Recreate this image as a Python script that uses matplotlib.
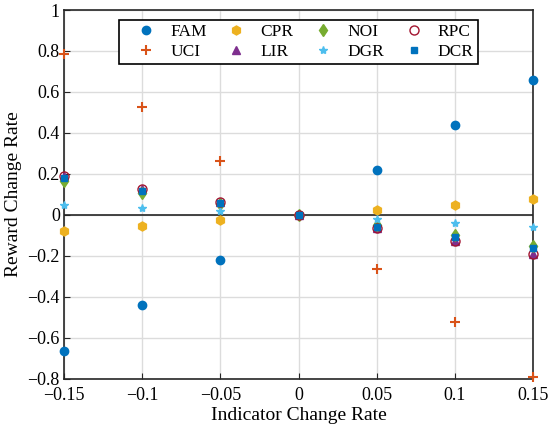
import matplotlib.pyplot as plt
import numpy as np

plt.rcParams['font.family'] = ['Liberation Serif', 'DejaVu Serif']

# indicator change rate
x = [-0.15, -0.1, -0.05, 0, 0.05, 0.1, 0.15]

fam = [-0.665, -0.44, -0.22, 0, 0.22, 0.44, 0.66]
uci = [0.785, 0.525, 0.265, 0, -0.265, -0.525, -0.79]
cpr = [-0.08, -0.055, -0.025, 0, 0.025, 0.05, 0.078]
lir = [0.19, 0.125, 0.065, 0, -0.065, -0.125, -0.19]
noi = [0.165, 0.105, 0.055, 0, -0.05, -0.1, -0.15]
dgr = [0.05, 0.035, 0.02, 0, -0.02, -0.04, -0.06]
rpc = [0.19, 0.125, 0.065, 0, -0.065, -0.125, -0.19]
dcr = [0.18, 0.115, 0.058, 0, -0.058, -0.11, -0.16]

fig = plt.figure(figsize=(5.5, 4.3), dpi=100)
ax = fig.add_axes([0.1164, 0.119, 0.8527, 0.8577])

kw = dict(linestyle='none', clip_on=False, zorder=3)
ax.plot(x, fam, marker='o', color='#0072BD', markersize=6, label='FAM', **kw)
ax.plot(x, uci, marker='+', color='#D95319', markersize=7, markeredgewidth=1.5, label='UCI', **kw)
ax.plot(x, cpr, marker='h', color='#EDB120', markersize=6.5, label='CPR', **kw)
ax.plot(x, lir, marker='^', color='#7E2F8E', markersize=6, label='LIR', **kw)
ax.plot(x, noi, marker='d', color='#77AC30', markersize=6, label='NOI', **kw)
ax.plot(x, dgr, marker='*', color='#4DBEEE', markersize=6, label='DGR', **kw)
ax.plot(x, rpc, marker='o', color='#A2142F', markerfacecolor='none', markersize=6.5, label='RPC', **kw)
ax.plot(x, dcr, marker='s', color='#0072BD', markersize=5, label='DCR', **kw)

ax.axhline(0, color='#262626', linewidth=1.2, zorder=2)

ax.set_xlim(-0.15, 0.15)
ax.set_ylim(-0.8, 1)
ax.set_xticks([-0.15, -0.1, -0.05, 0, 0.05, 0.1, 0.15])
ax.set_xticklabels(['\u22120.15', '\u22120.1', '\u22120.05', '0', '0.05', '0.1', '0.15'])
ax.set_yticks(np.arange(-0.8, 1.01, 0.2))
ax.set_yticklabels(['\u22120.8', '\u22120.6', '\u22120.4', '\u22120.2', '0', '0.2', '0.4', '0.6', '0.8', '1'])
ax.grid(True, color='#dcdcdc', linewidth=1)
ax.set_axisbelow(True)
ax.tick_params(direction='in', labelsize=13, length=4, color='#262626')
ax.tick_params(axis='x', pad=6)
ax.tick_params(axis='y', pad=3)
for s in ax.spines.values():
    s.set_linewidth(1.2)
    s.set_color('#262626')

ax.set_xlabel('Indicator Change Rate', fontsize=14, labelpad=2)
ax.set_ylabel('Reward Change Rate', fontsize=14, labelpad=4)

leg = ax.legend(ncol=4, loc='upper center', bbox_to_anchor=(0.5, 0.973), fontsize=12.5,
                frameon=True, fancybox=False, edgecolor='black', framealpha=1,
                handlelength=2.6, handletextpad=0.1, columnspacing=0.4,
                borderpad=0.25, labelspacing=0.2, borderaxespad=0)
leg.get_frame().set_linewidth(1.2)

fig.savefig('out.png', dpi=100)
